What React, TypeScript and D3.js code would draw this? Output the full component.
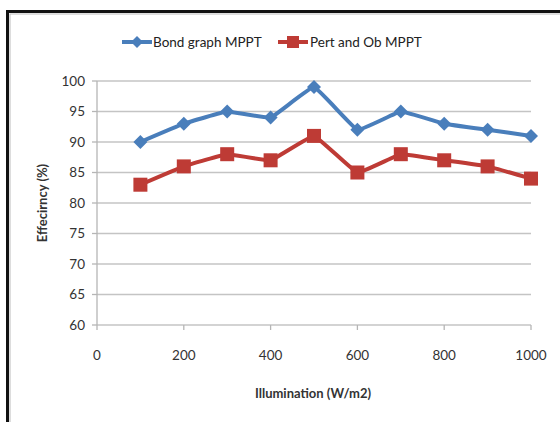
import React from "react";
import * as d3 from "d3";

const illumination = [100, 200, 300, 400, 500, 600, 700, 800, 900, 1000];
const bondGraph = [90, 93, 95, 94, 99, 92, 95, 93, 92, 91];
const pertOb = [83, 86, 88, 87, 91, 85, 88, 87, 86, 84];
const xTicks = [0, 200, 400, 600, 800, 1000];
const yTicks = [60, 65, 70, 75, 80, 85, 90, 95, 100];
const seriesNames = ["Bond graph MPPT", "Pert and Ob MPPT"];

const W = 560;
const H = 422;
const FONT = "Lato, 'Open Sans', sans-serif";
const BLUE = "#4a7ebb";
const RED = "#be3a36";

export default function App() {
  const x = d3.scaleLinear().domain([0, 1000]).range([97, 531]);
  const y = d3.scaleLinear().domain([60, 100]).range([325, 81]);

  const line = d3
    .line<number>()
    .x((_, i) => x(illumination[i]))
    .y((d) => y(d))
    .curve(d3.curveCardinal.tension(0.75));

  const diamond = (cx: number, cy: number, r: number) =>
    `M${cx},${cy - r}L${cx + r},${cy}L${cx},${cy + r}L${cx - r},${cy}Z`;

  return (
    <svg
      width={W}
      height={H}
      style={{ position: "absolute", left: 0, top: 0, background: "#fff" }}
      fontFamily={FONT}
    >
      <defs>
        <filter id="soft" x="-10%" y="-10%" width="120%" height="120%">
          <feGaussianBlur stdDeviation="0.6" />
        </filter>
      </defs>
      {/* chart frame */}
      <rect x={7.5} y={11.5} width={600} height={500} fill="none" stroke="#111" strokeWidth={3} />
      <rect x={10} y={14} width={600} height={500} fill="none" stroke="#bbb" strokeWidth={1} />

      {/* horizontal gridlines */}
      {yTicks.map((t) => (
        <line key={t} x1={97} x2={531} y1={y(t)} y2={y(t)} stroke="#c4c4c4" strokeWidth={1.3} />
      ))}
      {/* axes */}
      <line x1={97} x2={97} y1={81} y2={325} stroke="#b5b5b5" strokeWidth={1.3} />
      {yTicks.map((t) => (
        <line key={"yt" + t} x1={92} x2={97} y1={y(t)} y2={y(t)} stroke="#b5b5b5" strokeWidth={1.3} />
      ))}
      {xTicks.map((t) => (
        <line key={"xt" + t} x1={x(t)} x2={x(t)} y1={325} y2={330} stroke="#b5b5b5" strokeWidth={1.3} />
      ))}

      {/* tick labels */}
      {yTicks.map((t) => (
        <text key={"yl" + t} x={85} y={y(t)} dy="0.35em" textAnchor="end" fontSize={13.5} fill="#333">
          {t}
        </text>
      ))}
      {xTicks.map((t) => (
        <text key={"xl" + t} x={x(t)} y={355} dy="0.35em" textAnchor="middle" fontSize={13.5} fill="#333">
          {t}
        </text>
      ))}

      {/* axis titles */}
      <text x={313} y={393} dy="0.35em" textAnchor="middle" fontSize={13} fontWeight="bold" fill="#333">
        Illumination (W/m2)
      </text>
      <text
        transform="translate(42,203) rotate(-90)"
        dy="0.35em"
        textAnchor="middle"
        fontSize={13}
        fontWeight="bold"
        fill="#333"
      >
        Effecirncy (%)
      </text>

      <g filter="url(#soft)">
        {/* series lines */}
        <path d={line(bondGraph) || ""} fill="none" stroke={BLUE} strokeWidth={4} strokeLinejoin="round" />
        <path d={line(pertOb) || ""} fill="none" stroke={RED} strokeWidth={4} strokeLinejoin="round" />
        {/* markers */}
        {bondGraph.map((v, i) => (
          <path key={"b" + i} d={diamond(x(illumination[i]), y(v), 7)} fill={BLUE} />
        ))}
        {pertOb.map((v, i) => (
          <rect key={"r" + i} x={x(illumination[i]) - 7} y={y(v) - 7} width={14} height={14} fill={RED} />
        ))}

        {/* legend */}
        <line x1={122} x2={152} y1={42} y2={42} stroke={BLUE} strokeWidth={4} />
        <path d={diamond(137, 42, 6)} fill={BLUE} />
        <line x1={278} x2={308} y1={42} y2={42} stroke={RED} strokeWidth={4} />
        <rect x={287} y={36} width={12} height={12} fill={RED} />
      </g>
      <text x={153} y={42} dy="0.35em" fontSize={13.5} fill="#222">
        {seriesNames[0]}
      </text>
      <text x={310} y={42} dy="0.35em" fontSize={13.5} fill="#222">
        {seriesNames[1]}
      </text>
    </svg>
  );
}
